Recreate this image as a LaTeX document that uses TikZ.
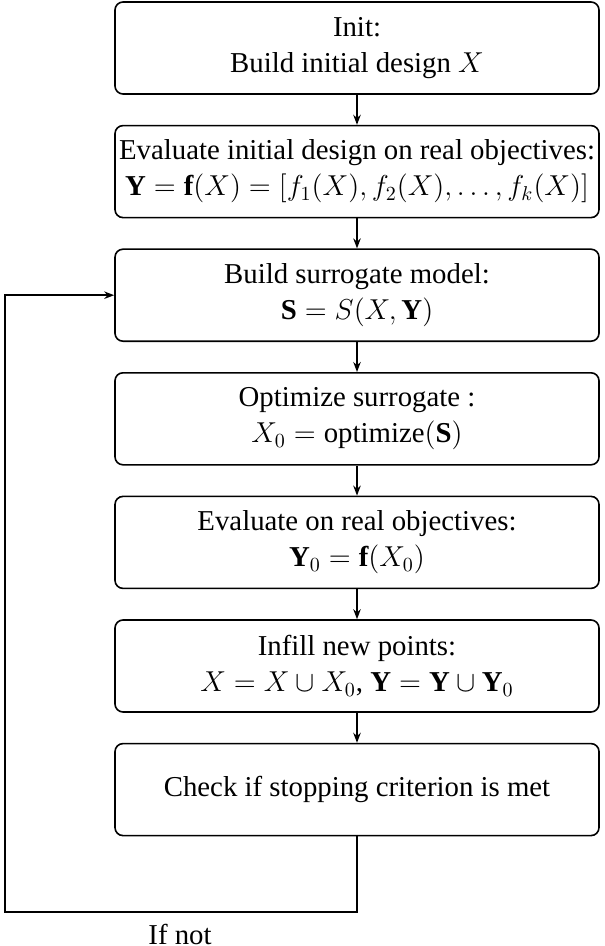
\documentclass[tikz,border=0pt]{standalone}
\usepackage{fontspec}
\setmainfont{Liberation Serif}
\usetikzlibrary{positioning,arrows.meta}
\tikzset{
	stage/.style={draw, thick, rounded corners=4pt, minimum width=242pt, minimum height=46pt, align=center, font=\Large, inner sep=2pt},
	flow/.style={thick, -{Stealth[length=5pt]}}
}
\begin{document}
\begin{tikzpicture}[node distance=15pt]
\useasboundingbox (0,0) rectangle (302pt,-473pt);
\node[stage] (init) at (178.5pt,-24pt) {Init:\\ Build initial design $X$};
\node[stage, below=of init] (eval) {Evaluate initial design on real objectives:\\ $\mathbf{Y}=\mathbf{f}(X)=[f_1(X),f_2(X),\ldots,f_k(X)]$};
\node[stage, below=of eval] (surr) {Build surrogate model:\\ $\mathbf{S}=S(X,\mathbf{Y})$};
\node[stage, below=of surr] (opt) {Optimize surrogate :\\ $X_0=\mathrm{optimize}(\mathbf{S})$};
\node[stage, below=of opt] (real) {Evaluate on real objectives:\\ $\mathbf{Y}_0=\mathbf{f}(X_0)$};
\node[stage, below=of real] (infill) {Infill new points:\\ $X=X\cup X_0$, $\mathbf{Y}=\mathbf{Y}\cup\mathbf{Y}_0$};
\node[stage, below=of infill] (check) {Check if stopping criterion is met};
\coordinate (low) at (178.5pt,-456pt);
\coordinate (left) at (2.5pt,-456pt);
\node[font=\Large] (ifnot) at (90pt,-467pt) {If not};
\draw[flow] (init) -- (eval);
\draw[flow] (eval) -- (surr);
\draw[flow] (surr) -- (opt);
\draw[flow] (opt) -- (real);
\draw[flow] (real) -- (infill);
\draw[flow] (infill) -- (check);
\draw[flow] (check.south) -- (low) -- (left) |- (surr.west);
\end{tikzpicture}
\end{document}
